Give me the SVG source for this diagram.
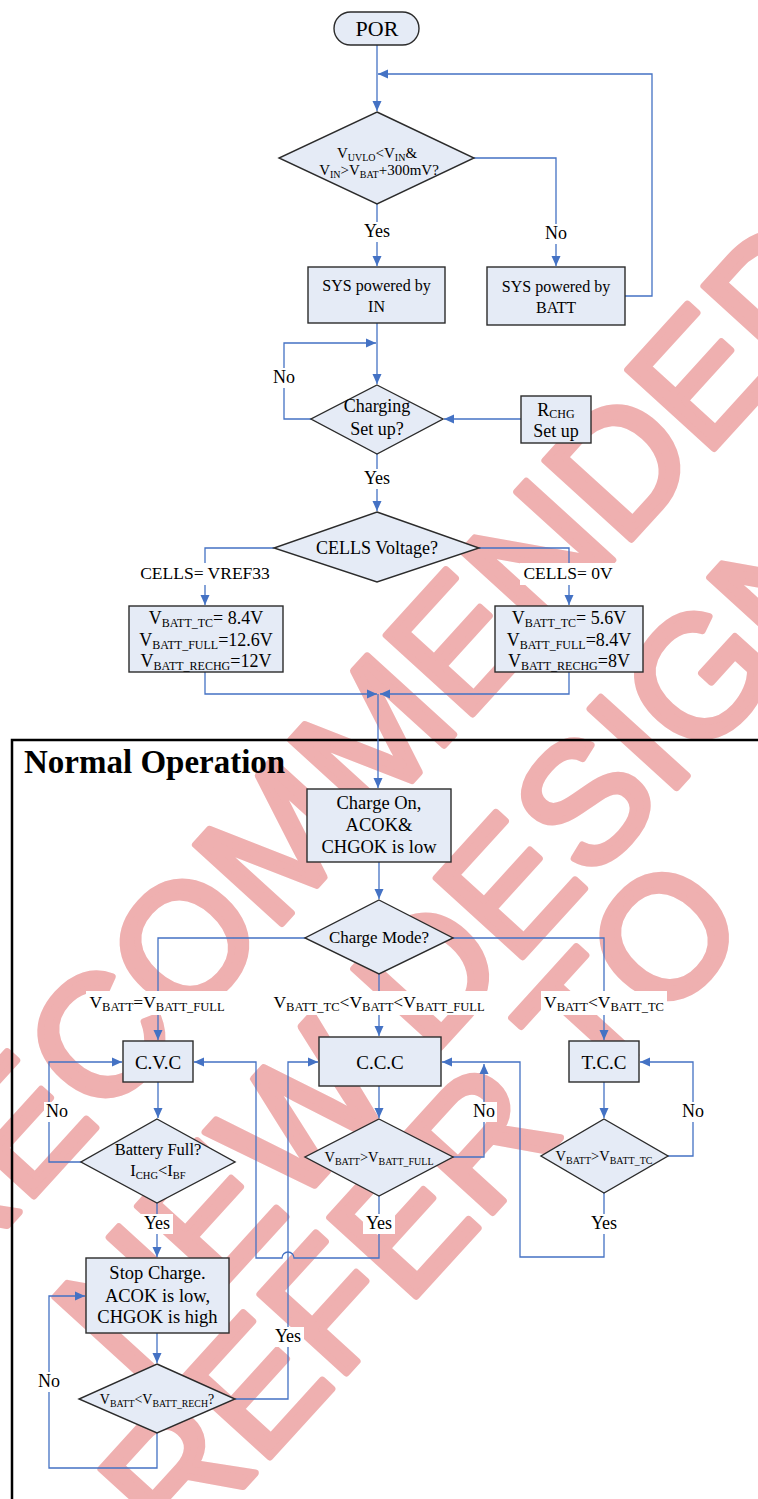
<svg xmlns="http://www.w3.org/2000/svg" width="758" height="1499" viewBox="0 0 758 1499">
<style>
.wm{font-family:"Liberation Sans",Arial,sans-serif;font-size:170px;fill:#EFB0B0;stroke:#EFB0B0;stroke-width:7;stroke-linejoin:round}
.t{font-family:"Liberation Serif","Times New Roman",serif;fill:#000;text-anchor:middle}
.box{fill:#E5EBF6;stroke:#2b2b2b;stroke-width:1.4}
.c{fill:none;stroke:#4472C4;stroke-width:1.3}
.bg{fill:#fff}
</style>
<defs>
<marker id="a" markerUnits="userSpaceOnUse" markerWidth="10" markerHeight="10" refX="10" refY="5" orient="auto"><path d="M0,0.5 L10,5 L0,9.5 z" fill="#4472C4"/></marker>
</defs>
<rect width="758" height="1499" fill="#fff"/>
<g id="watermark">
<text class="wm" transform="translate(-58,1297) rotate(-47.7)">RECOMMENDED</text>
<text class="wm" transform="translate(132,1386) rotate(-47.7)">NEW DESIGN</text>
<text class="wm" transform="translate(178,1558) rotate(-47.7)">REFER TO</text>
</g>
<g id="frame">
<path d="M760,740 H12 V1500" fill="none" stroke="#000" stroke-width="2.5"/>
<text x="24" y="773" font-family="Liberation Serif,Times New Roman,serif" font-weight="bold" font-size="33">Normal Operation</text>
</g>
<g id="connectors">
<path class="c" d="M377,45 V111" marker-end="url(#a)"/>
<path class="c" d="M625,296 H652 V74 H378" marker-end="url(#a)"/>
<path class="c" d="M377,204 V266" marker-end="url(#a)"/>
<path class="c" d="M474,158 H556 V266" marker-end="url(#a)"/>
<path class="c" d="M377,323 V384" marker-end="url(#a)"/>
<path class="c" d="M311,419 H284 V343 H376" marker-end="url(#a)"/>
<path class="c" d="M521,419 H444" marker-end="url(#a)"/>
<path class="c" d="M377,454 V511" marker-end="url(#a)"/>
<path class="c" d="M274,548 H205 V605" marker-end="url(#a)"/>
<path class="c" d="M479,548 H569 V605" marker-end="url(#a)"/>
<path class="c" d="M205,672 V694 H377" marker-end="url(#a)"/>
<path class="c" d="M569,672 V694 H380" marker-end="url(#a)"/>
<path class="c" d="M378,694 V788" marker-end="url(#a)"/>
<path class="c" d="M379,862 V899" marker-end="url(#a)"/>
<path class="c" d="M305,938 H158 V1040" marker-end="url(#a)"/>
<path class="c" d="M379,974 V1036" marker-end="url(#a)"/>
<path class="c" d="M453,938 H604 V1040" marker-end="url(#a)"/>
<path class="c" d="M158,1082 V1118" marker-end="url(#a)"/>
<path class="c" d="M379,1086 V1118" marker-end="url(#a)"/>
<path class="c" d="M604,1082 V1118" marker-end="url(#a)"/>
<path class="c" d="M81,1162 H49 V1062 H122" marker-end="url(#a)"/>
<path class="c" d="M157,1203 V1257" marker-end="url(#a)"/>
<path class="c" d="M379,1196 V1258 H294 A6,6 0 0 0 282,1258 H256 V1062 H194" marker-end="url(#a)"/>
<path class="c" d="M453,1157 H484 V1064" marker-end="url(#a)"/>
<path class="c" d="M604,1193 V1257 H520 V1062 H442" marker-end="url(#a)"/>
<path class="c" d="M668,1156 H693 V1062 H640" marker-end="url(#a)"/>
<path class="c" d="M157,1333 V1363" marker-end="url(#a)"/>
<path class="c" d="M157,1433 V1468 H49 V1296 H85" marker-end="url(#a)"/>
<path class="c" d="M235,1399 H288 V1062 H318" marker-end="url(#a)"/>
<g id="labels">
<rect class="bg" x="361" y="222" width="32" height="20"/><text class="t" x="377" y="237" font-size="18">Yes</text>
<rect class="bg" x="543" y="224" width="26" height="20"/><text class="t" x="556" y="239" font-size="18">No</text>
<rect class="bg" x="271" y="368" width="26" height="20"/><text class="t" x="284" y="383" font-size="18">No</text>
<rect class="bg" x="361" y="469" width="32" height="20"/><text class="t" x="377" y="484" font-size="18">Yes</text>
<rect class="bg" x="134" y="563" width="142" height="22"/><text class="t" x="205" y="579" font-size="17.5">CELLS= VREF33</text>
<rect class="bg" x="520" y="563" width="98" height="22"/><text class="t" x="568" y="579" font-size="17.5">CELLS= 0V</text>
<rect class="bg" x="86" y="991" width="143" height="24"/>
<text class="t" x="157" y="1008" font-size="17.5">V<tspan font-size="12.5" dy="2.5">BATT</tspan><tspan dy="-2.5">=V</tspan><tspan font-size="12.5" dy="2.5">BATT_FULL</tspan></text>
<rect class="bg" x="270" y="991" width="219" height="24"/>
<text class="t" x="379" y="1008" font-size="17.5">V<tspan font-size="12.5" dy="2.5">BATT_TC</tspan><tspan dy="-2.5">&lt;V</tspan><tspan font-size="12.5" dy="2.5">BATT</tspan><tspan dy="-2.5">&lt;V</tspan><tspan font-size="12.5" dy="2.5">BATT_FULL</tspan></text>
<rect class="bg" x="541" y="991" width="126" height="24"/>
<text class="t" x="604" y="1008" font-size="17.5">V<tspan font-size="12.5" dy="2.5">BATT</tspan><tspan dy="-2.5">&lt;V</tspan><tspan font-size="12.5" dy="2.5">BATT_TC</tspan></text>
<rect class="bg" x="44" y="1102" width="26" height="20"/><text class="t" x="57" y="1117" font-size="18">No</text>
<rect class="bg" x="141" y="1214" width="32" height="20"/><text class="t" x="157" y="1229" font-size="18">Yes</text>
<rect class="bg" x="363" y="1214" width="32" height="20"/><text class="t" x="379" y="1229" font-size="18">Yes</text>
<rect class="bg" x="588" y="1214" width="32" height="20"/><text class="t" x="604" y="1229" font-size="18">Yes</text>
<rect class="bg" x="471" y="1102" width="26" height="20"/><text class="t" x="484" y="1117" font-size="18">No</text>
<rect class="bg" x="680" y="1102" width="26" height="20"/><text class="t" x="693" y="1117" font-size="18">No</text>
<rect class="bg" x="36" y="1372" width="26" height="20"/><text class="t" x="49" y="1387" font-size="18">No</text>
<rect class="bg" x="272" y="1327" width="32" height="20"/><text class="t" x="288" y="1342" font-size="18">Yes</text>
</g>
</g>
<g id="por">
<rect class="box" x="334" y="12" width="85" height="33" rx="16.5"/>
<text class="t" x="377" y="36" font-size="22">POR</text>
</g>
<g id="vin-check">
<polygon class="box" points="377,112 474,158 377,204 279,158"/>
<text class="t" x="377" y="158" font-size="15">V<tspan font-size="10" dy="2.5">UVLO</tspan><tspan dy="-2.5">&lt;V</tspan><tspan font-size="10" dy="2.5">IN</tspan><tspan dy="-2.5">&amp;</tspan></text>
<text class="t" x="379" y="175" font-size="15">V<tspan font-size="10" dy="2.5">IN</tspan><tspan dy="-2.5">&gt;V</tspan><tspan font-size="10" dy="2.5">BAT</tspan><tspan dy="-2.5">+300mV?</tspan></text>
</g>
<g id="sys-in">
<rect class="box" x="308" y="267" width="137" height="56"/>
<text class="t" x="376.5" y="291" font-size="16">SYS powered by</text>
<text class="t" x="376.5" y="312" font-size="16">IN</text>
</g>
<g id="sys-batt">
<rect class="box" x="487" y="267" width="138" height="58"/>
<text class="t" x="556" y="292" font-size="16">SYS powered by</text>
<text class="t" x="556" y="313" font-size="16">BATT</text>
</g>
<g id="charging-setup">
<polygon class="box" points="377,385 443,419 377,454 311,419"/>
<text class="t" x="377" y="412" font-size="18">Charging</text>
<text class="t" x="377" y="435" font-size="18">Set up?</text>
</g>
<g id="rchg">
<rect class="box" x="521" y="396" width="70" height="47"/>
<text class="t" x="556" y="416" font-size="18">R<tspan font-size="12" dy="2">CHG</tspan></text>
<text class="t" x="556" y="437" font-size="18">Set up</text>
</g>
<g id="cells-voltage">
<polygon class="box" points="377,512 479,548 377,582 274,548"/>
<text class="t" x="377" y="554" font-size="18">CELLS Voltage?</text>
</g>
<g id="cells-vref33">
<rect class="box" x="129" y="606" width="154" height="66"/>
<text class="t" x="206" y="624" font-size="18">V<tspan font-size="12" dy="3">BATT_TC</tspan><tspan dy="-3">= 8.4V</tspan></text>
<text class="t" x="206" y="646" font-size="18">V<tspan font-size="12" dy="3">BATT_FULL</tspan><tspan dy="-3">=12.6V</tspan></text>
<text class="t" x="206" y="667" font-size="18">V<tspan font-size="12" dy="3">BATT_RECHG</tspan><tspan dy="-3">=12V</tspan></text>
</g>
<g id="cells-0v">
<rect class="box" x="495" y="606" width="148" height="66"/>
<text class="t" x="569" y="624" font-size="18">V<tspan font-size="12" dy="3">BATT_TC</tspan><tspan dy="-3">= 5.6V</tspan></text>
<text class="t" x="569" y="646" font-size="18">V<tspan font-size="12" dy="3">BATT_FULL</tspan><tspan dy="-3">=8.4V</tspan></text>
<text class="t" x="569" y="667" font-size="18">V<tspan font-size="12" dy="3">BATT_RECHG</tspan><tspan dy="-3">=8V</tspan></text>
</g>
<g id="charge-on">
<rect class="box" x="307" y="789" width="144" height="73"/>
<text class="t" x="379" y="809" font-size="18.5">Charge On,</text>
<text class="t" x="379" y="831" font-size="18.5">ACOK&amp;</text>
<text class="t" x="379" y="853" font-size="18.5">CHGOK is low</text>
</g>
<g id="charge-mode">
<polygon class="box" points="379,900 453,938 379,974 305,938"/>
<text class="t" x="379" y="943" font-size="17">Charge Mode?</text>
</g>
<g id="cvc">
<rect class="box" x="123" y="1041" width="70" height="41"/>
<text class="t" x="158" y="1069" font-size="19">C.V.C</text>
</g>
<g id="ccc">
<rect class="box" x="319" y="1037" width="122" height="49"/>
<text class="t" x="380" y="1069" font-size="19">C.C.C</text>
</g>
<g id="tcc">
<rect class="box" x="569" y="1041" width="70" height="41"/>
<text class="t" x="604" y="1069" font-size="19">T.C.C</text>
</g>
<g id="battery-full">
<polygon class="box" points="157,1119 235,1162 157,1203 81,1162"/>
<text class="t" x="158" y="1155" font-size="16.5">Battery Full?</text>
<text class="t" x="158" y="1176" font-size="16.5">I<tspan font-size="10.5" dy="2.5">CHG</tspan><tspan dy="-2.5">&lt;I</tspan><tspan font-size="10.5" dy="2.5">BF</tspan></text>
</g>
<g id="full-check">
<polygon class="box" points="379,1119 453,1157 379,1196 305,1157"/>
<text class="t" x="379" y="1162" font-size="14.5">V<tspan font-size="10" dy="2.5">BATT</tspan><tspan dy="-2.5">&gt;V</tspan><tspan font-size="10" dy="2.5">BATT_FULL</tspan></text>
</g>
<g id="tc-check">
<polygon class="box" points="604,1119 668,1156 604,1193 541,1156"/>
<text class="t" x="604" y="1161" font-size="14.5">V<tspan font-size="10" dy="2.5">BATT</tspan><tspan dy="-2.5">&gt;V</tspan><tspan font-size="10" dy="2.5">BATT_TC</tspan></text>
</g>
<g id="stop-charge">
<rect class="box" x="86" y="1258" width="143" height="75"/>
<text class="t" x="157.5" y="1279" font-size="18.5">Stop Charge.</text>
<text class="t" x="157.5" y="1302" font-size="18.5">ACOK is low,</text>
<text class="t" x="157.5" y="1323" font-size="18.5">CHGOK is high</text>
</g>
<g id="rech-check">
<polygon class="box" points="157,1364 235,1399 157,1433 79,1399"/>
<text class="t" x="157" y="1404" font-size="14">V<tspan font-size="9.8" dy="2.5">BATT</tspan><tspan dy="-2.5">&lt;V</tspan><tspan font-size="9.8" dy="2.5">BATT_RECH</tspan><tspan dy="-2.5">?</tspan></text>
</g>
</svg>
